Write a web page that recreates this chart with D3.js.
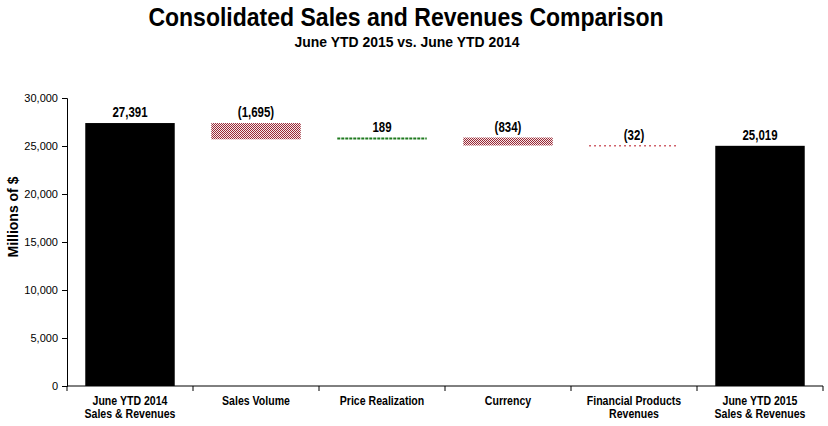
<!DOCTYPE html>
<html>
<head>
<meta charset="utf-8">
<script src="https://cdn.jsdelivr.net/npm/d3@7"></script>
<style>
  body { margin: 0; background: #fff; }
  svg { display: block; }
  .narrow { font-family: "Liberation Sans", Arial, sans-serif; font-weight: bold; }
  .tick text { font-family: "Liberation Sans", Arial, sans-serif; font-size: 11px; fill: #000; }
</style>
</head>
<body>
<div id="chart"></div>
<script>
// data
const categories = ['June YTD 2014|Sales & Revenues', 'Sales Volume', 'Price Realization', 'Currency', 'Financial Products|Revenues', 'June YTD 2015|Sales & Revenues'];
const changes = [27391, -1695, 189, -834, -32, 25019];
const kinds = ['total', 'down', 'up', 'down', 'down', 'total'];
const labels = ['27,391', '(1,695)', '189', '(834)', '(32)', '25,019'];
const yTicks = [0, 5000, 10000, 15000, 20000, 25000, 30000];

const width = 828, height = 426;
const mLeft = 67, mRight = 823, mTop = 98, mBottom = 386;

const svg = d3.select('#chart').append('svg').attr('width', width).attr('height', height);

// no narrow font installed: squeeze bold text horizontally
function narrowText(parent, x, y, size, sx, txt) {
  const t = parent.append('text').attr('class', 'narrow').attr('font-size', size)
    .attr('text-anchor', 'middle').attr('transform', `translate(${x},${y}) scale(${sx},1)`);
  txt.split('|').forEach((s, j) => {
    t.append('tspan').attr('x', 0).attr('dy', j ? size + 1 : 0).text(s);
  });
  return t;
}

// patterns
const defs = svg.append('defs');
const dots = defs.append('pattern').attr('id', 'reddots')
  .attr('width', 2).attr('height', 2).attr('patternUnits', 'userSpaceOnUse');
dots.append('rect').attr('width', 2).attr('height', 2).attr('fill', '#f6eaec');
dots.append('rect').attr('width', 1).attr('height', 1).attr('fill', '#9a2a36');
dots.append('rect').attr('x', 1).attr('y', 1).attr('width', 1).attr('height', 1).attr('fill', '#9a2a36');

// running totals -> segments
let run = 0;
const bars = changes.map((v, i) => {
  let y0, y1;
  if (kinds[i] === 'total') { y0 = 0; y1 = v; run = v; }
  else { y0 = run; y1 = run + v; run = y1; }
  return { cat: categories[i], kind: kinds[i], lo: Math.min(y0, y1), hi: Math.max(y0, y1), label: labels[i] };
});

const x = d3.scaleBand().domain(categories).range([mLeft, mRight]).paddingInner(0.29).paddingOuter(0.145);
const y = d3.scaleLinear().domain([0, 30000]).range([mBottom, mTop]);

// title
narrowText(svg, 406, 26, 26, 0.885, 'Consolidated Sales and Revenues Comparison');
narrowText(svg, 407, 47, 15, 0.93, 'June YTD 2015 vs. June YTD 2014');

// y axis
const yAxis = svg.append('g').attr('transform', `translate(${mLeft},0)`)
  .call(d3.axisLeft(y).tickValues(yTicks).tickSize(5).tickPadding(4).tickFormat(d3.format(',')));
yAxis.selectAll('path, line').attr('stroke', '#000');

svg.append('text').attr('class', 'narrow')
  .attr('transform', 'translate(18,217) rotate(-90)')
  .attr('text-anchor', 'middle').attr('font-size', 14).text('Millions of $');

// x axis with ticks at the category boundaries
const xg = svg.append('g').attr('transform', `translate(0,${mBottom})`);
xg.append('line').attr('x1', mLeft).attr('x2', mRight).attr('stroke', '#000');
const step = x.step();
d3.range(categories.length + 1).forEach(i => {
  const xx = mLeft + i * step;
  xg.append('line').attr('x1', xx).attr('x2', xx).attr('y1', 0).attr('y2', 5).attr('stroke', '#000');
});
categories.forEach(c => {
  narrowText(xg, x(c) + x.bandwidth() / 2, 19, 12, 0.88, c);
});

// bars
const g = svg.append('g');
bars.forEach(b => {
  const bx = x(b.cat), bw = x.bandwidth();
  const yt = y(b.hi), yb = y(b.lo);
  if (b.kind === 'total') {
    g.append('rect').attr('x', bx).attr('y', yt).attr('width', bw).attr('height', yb - yt).attr('fill', '#000');
  } else if (yb - yt > 3) {
    g.append('rect').attr('x', bx).attr('y', yt).attr('width', bw).attr('height', yb - yt).attr('fill', 'url(#reddots)');
  } else if (b.kind === 'up') {
    g.append('line').attr('x1', bx).attr('x2', bx + bw).attr('y1', (yt + yb) / 2).attr('y2', (yt + yb) / 2)
      .attr('stroke', '#1f7a1f').attr('stroke-width', 2).attr('stroke-dasharray', '3,1');
  } else {
    g.append('line').attr('x1', bx).attr('x2', bx + bw).attr('y1', (yt + yb) / 2).attr('y2', (yt + yb) / 2)
      .attr('stroke', '#c0303c').attr('stroke-width', 1.5).attr('stroke-dasharray', '1.5,3.5');
  }
  narrowText(g, bx + bw / 2, yt - 6, 14, 0.82, b.label);
});
</script>
</body>
</html>
